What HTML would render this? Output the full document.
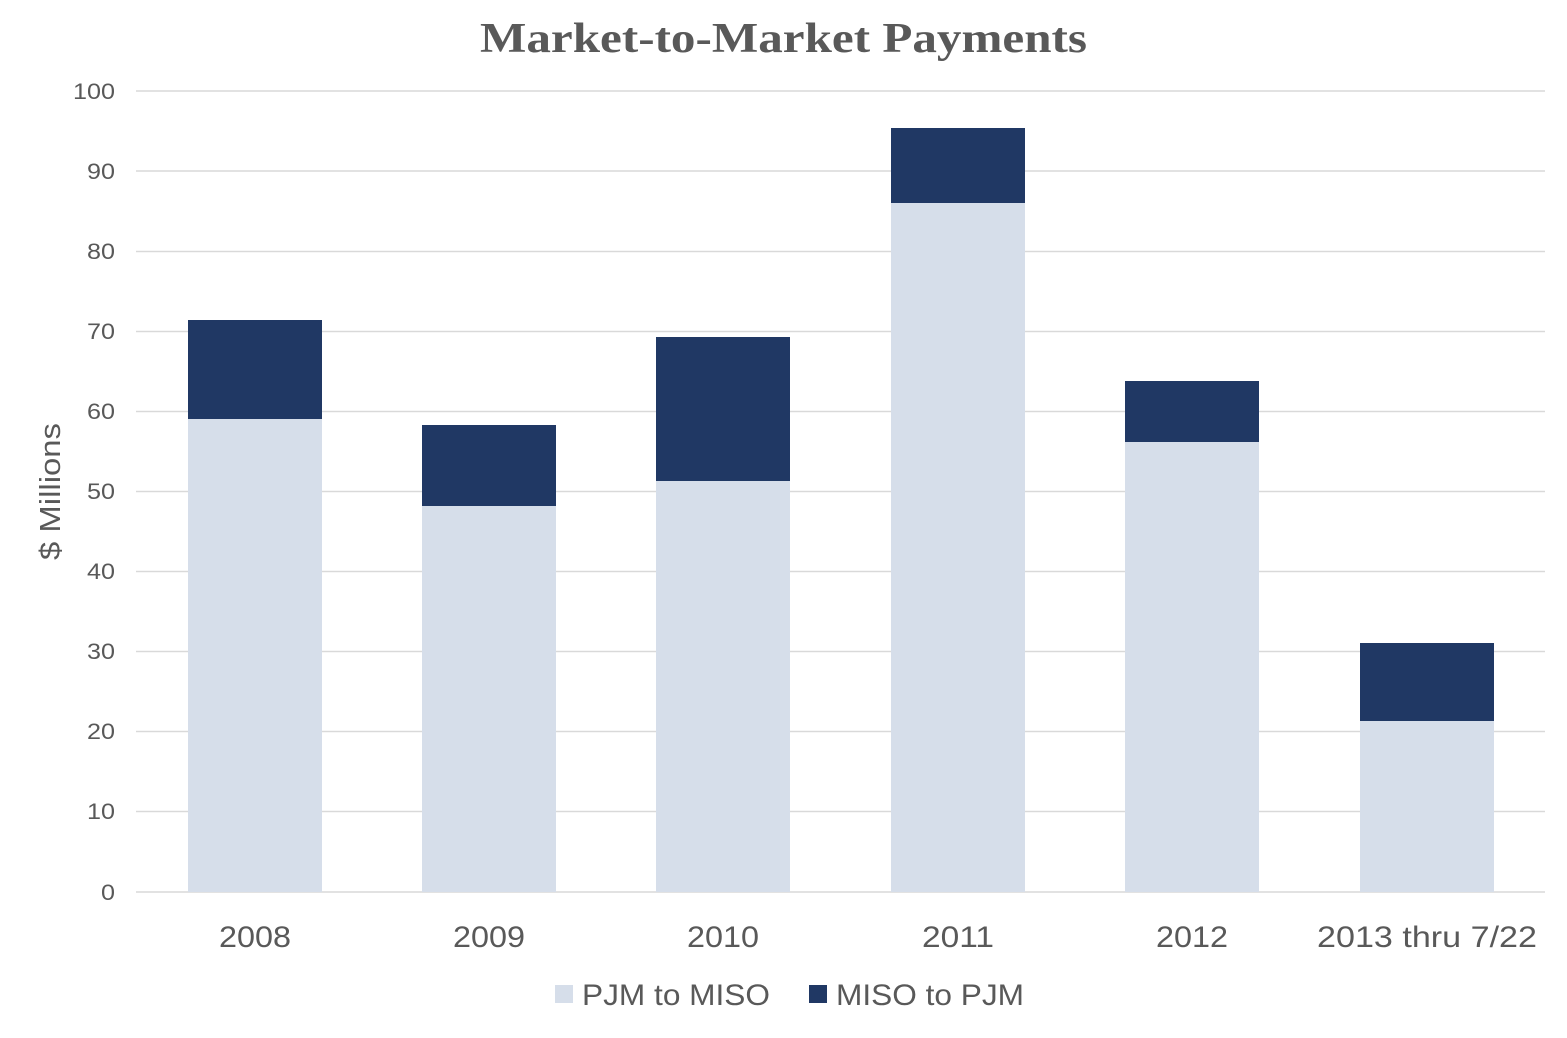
<!DOCTYPE html>
<html><head><meta charset="utf-8"><style>
html,body{margin:0;padding:0;background:#fff;}
</style></head><body>
<svg width="1567" height="1033" viewBox="0 0 1567 1033" xmlns="http://www.w3.org/2000/svg" font-family="Liberation Sans, sans-serif" fill="#595959">
<rect width="1567" height="1033" fill="#fff"/>
<text x="480" y="52" textLength="607" lengthAdjust="spacingAndGlyphs" font-family="Liberation Serif, serif" font-weight="bold" font-size="42" fill="#595959">Market-to-Market Payments</text>
<g stroke="#d9d9d9" stroke-width="1.5">
<line x1="136" x2="1545" y1="91" y2="91"/>
<line x1="136" x2="1545" y1="171" y2="171"/>
<line x1="136" x2="1545" y1="251.5" y2="251.5"/>
<line x1="136" x2="1545" y1="331.5" y2="331.5"/>
<line x1="136" x2="1545" y1="411.5" y2="411.5"/>
<line x1="136" x2="1545" y1="491.5" y2="491.5"/>
<line x1="136" x2="1545" y1="571.5" y2="571.5"/>
<line x1="136" x2="1545" y1="651.5" y2="651.5"/>
<line x1="136" x2="1545" y1="731.5" y2="731.5"/>
<line x1="136" x2="1545" y1="811.5" y2="811.5"/>
<line x1="136" x2="1545" y1="892" y2="892"/>
</g>
<g font-size="22">
<text x="73" y="99" textLength="42" lengthAdjust="spacingAndGlyphs">100</text>
<text x="87" y="179" textLength="28" lengthAdjust="spacingAndGlyphs">90</text>
<text x="87" y="259" textLength="28" lengthAdjust="spacingAndGlyphs">80</text>
<text x="87" y="339" textLength="28" lengthAdjust="spacingAndGlyphs">70</text>
<text x="87" y="419" textLength="28" lengthAdjust="spacingAndGlyphs">60</text>
<text x="87" y="499" textLength="28" lengthAdjust="spacingAndGlyphs">50</text>
<text x="87" y="579" textLength="28" lengthAdjust="spacingAndGlyphs">40</text>
<text x="87" y="659" textLength="28" lengthAdjust="spacingAndGlyphs">30</text>
<text x="87" y="739" textLength="28" lengthAdjust="spacingAndGlyphs">20</text>
<text x="87" y="819" textLength="28" lengthAdjust="spacingAndGlyphs">10</text>
<text x="101" y="900" textLength="14" lengthAdjust="spacingAndGlyphs">0</text>
</g>
<text transform="translate(60,560) rotate(-90)" font-size="29" textLength="137" lengthAdjust="spacingAndGlyphs">$ Millions</text>
<g fill="#d6deea">
<rect x="188" y="419" width="134" height="473"/>
<rect x="422" y="506" width="134" height="386"/>
<rect x="656" y="481" width="134" height="411"/>
<rect x="891" y="203" width="134" height="689"/>
<rect x="1125" y="442" width="134" height="450"/>
<rect x="1360" y="721" width="134" height="171"/>
</g>
<g fill="#203864">
<rect x="188" y="320" width="134" height="99"/>
<rect x="422" y="425" width="134" height="81"/>
<rect x="656" y="337" width="134" height="144"/>
<rect x="891" y="128" width="134" height="75"/>
<rect x="1125" y="381" width="134" height="61"/>
<rect x="1360" y="643" width="134" height="78"/>
</g>
<g font-size="30">
<text x="219" y="947" textLength="72" lengthAdjust="spacingAndGlyphs">2008</text>
<text x="453" y="947" textLength="72" lengthAdjust="spacingAndGlyphs">2009</text>
<text x="687" y="947" textLength="72" lengthAdjust="spacingAndGlyphs">2010</text>
<text x="922" y="947" textLength="72" lengthAdjust="spacingAndGlyphs">2011</text>
<text x="1156" y="947" textLength="72" lengthAdjust="spacingAndGlyphs">2012</text>
<text x="1317" y="947" textLength="220" lengthAdjust="spacingAndGlyphs">2013 thru 7/22</text>
</g>
<rect x="555" y="985" width="18" height="18" fill="#d6deea"/>
<text x="582" y="1005" font-size="30" textLength="188" lengthAdjust="spacingAndGlyphs">PJM to MISO</text>
<rect x="809" y="985" width="18" height="18" fill="#203864"/>
<text x="836" y="1005" font-size="30" textLength="188" lengthAdjust="spacingAndGlyphs">MISO to PJM</text>
</svg>
</body></html>
